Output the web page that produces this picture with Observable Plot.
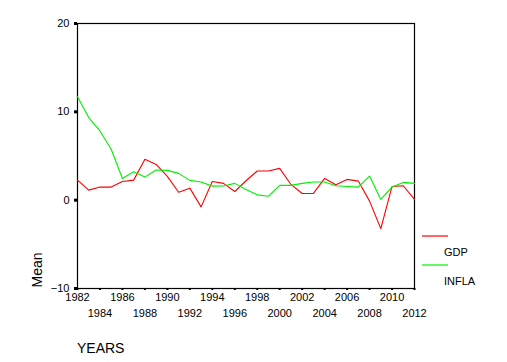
<!DOCTYPE html>
<html>
<head>
<meta charset="utf-8">
<script src="https://cdn.jsdelivr.net/npm/d3@7"></script>
<script src="https://cdn.jsdelivr.net/npm/@observablehq/plot@0.6"></script>
<style>
  html, body { margin: 0; padding: 0; background: #fff; }
  #chart svg { display: block; }
</style>
</head>
<body>
<div id="chart"></div>
<script>
const years = d3.range(1982, 2013);
const gdp = [2.27,1.14,1.48,1.48,2.12,2.27,4.62,4.05,2.69,0.9,1.36,-0.76,2.12,1.9,0.98,2.2,3.3,
             3.3,3.6,1.78,0.76,0.76,2.46,1.74,2.35,2.16,-0.11,-3.22,1.55,1.63,0.08];
const infla = [11.7,9.35,7.84,5.76,2.46,3.22,2.61,3.41,3.37,3.03,2.24,2.05,1.59,1.6,1.9,1.2,0.6,
               0.45,1.67,1.67,1.9,2.05,2.05,1.63,1.55,1.48,2.73,0.08,1.48,2.01,1.9];
const seriesNames = ["GDP", "INFLA"];
const seriesColors = ["#ff0000", "#00f000"];
const yTicks = [-10, 0, 10, 20];
const xTicksTop = [1982, 1986, 1990, 1994, 1998, 2002, 2006, 2010];
const xTicksBottom = [1984, 1988, 1992, 1996, 2000, 2004, 2008, 2012];
const xTickMarks = d3.range(1982, 2013, 2);

const rows = [];
years.forEach((yr, i) => {
  rows.push({year: yr, value: gdp[i], series: seriesNames[0]});
  rows.push({year: yr, value: infla[i], series: seriesNames[1]});
});

const W = 507, H = 362;
const chart = Plot.plot({
  width: W,
  height: H,
  marginLeft: 77,
  marginRight: 93,
  marginTop: 23,
  marginBottom: 74,
  style: {fontFamily: "'Liberation Sans', Arial, sans-serif", fontSize: "11px", background: "#fff", color: "#000"},
  x: {domain: [1982, 2012]},
  y: {domain: [-10, 20]},
  color: {domain: seriesNames, range: seriesColors},
  marks: [
    Plot.frame({stroke: "#000", strokeWidth: 1.2}),
    Plot.axisY({ticks: yTicks, tickSize: 3, strokeWidth: 3, tickPadding: 5, label: null}),
    Plot.axisX({ticks: xTickMarks, tickSize: 2, strokeWidth: 2, text: null, label: null}),
    Plot.axisX({ticks: xTicksTop, tickSize: 0, tickPadding: 5, tickFormat: d => String(d), label: null}),
    Plot.axisX({ticks: xTicksBottom, tickSize: 0, tickPadding: 21, tickFormat: d => String(d), label: null}),
    Plot.lineY(rows, {x: "year", y: "value", z: "series", stroke: "series", strokeWidth: 1.1})
  ]
});

const svg = d3.select(chart);
const colorScale = chart.scale("color");
// y-axis title
svg.append("text")
  .attr("transform", "translate(42,270) rotate(-90)")
  .attr("text-anchor", "middle")
  .style("font-size", "14px")
  .text("Mean");
// x-axis title
svg.append("text")
  .attr("x", 77).attr("y", 353)
  .attr("text-anchor", "start")
  .style("font-size", "14px")
  .text("YEARS");
// legend
const lg = svg.append("g").attr("text-anchor", "start");
seriesNames.forEach((name, i) => {
  const y0 = 236 + i * 29;
  lg.append("line")
    .attr("x1", 422).attr("x2", 448)
    .attr("y1", y0).attr("y2", y0)
    .attr("stroke", colorScale.apply(name))
    .attr("stroke-width", 1.2);
  lg.append("text")
    .attr("x", 444).attr("y", y0 + 20)
    .attr("text-anchor", "start")
    .style("font-size", "11px")
    .text(name);
});

document.getElementById("chart").appendChild(chart);
</script>
</body>
</html>
